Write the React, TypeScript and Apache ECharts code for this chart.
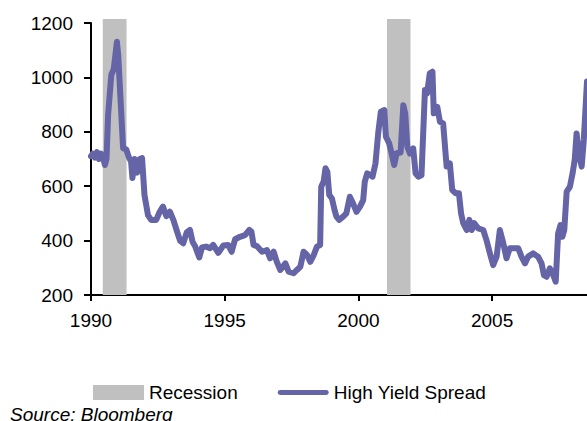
import React, { useEffect, useRef } from "react";
import * as echarts from "echarts";

const years = [
  1990.0, 1990.07, 1990.15, 1990.22, 1990.3, 1990.37, 1990.45, 1990.52, 1990.58, 1990.64,
  1990.76, 1990.85, 1990.97, 1991.02, 1991.07, 1991.2, 1991.32, 1991.42, 1991.5, 1991.55,
  1991.63, 1991.73, 1991.82, 1991.91, 1992.0, 1992.13, 1992.25, 1992.44, 1992.57, 1992.69,
  1992.82, 1992.95, 1993.08, 1993.2, 1993.33, 1993.45, 1993.58, 1993.7, 1993.8, 1993.89,
  1994.05, 1994.15, 1994.3, 1994.45, 1994.57, 1994.76, 1994.95, 1995.13, 1995.26, 1995.39,
  1995.57, 1995.76, 1995.92, 1996.0, 1996.08, 1996.2, 1996.4, 1996.58, 1996.7, 1996.83,
  1996.95, 1997.08, 1997.27, 1997.39, 1997.58, 1997.7, 1997.83, 1997.95, 1998.08, 1998.2,
  1998.33, 1998.45, 1998.57, 1998.61, 1998.7, 1998.77, 1998.84, 1998.91, 1999.01, 1999.11,
  1999.18, 1999.28, 1999.43, 1999.55, 1999.68, 1999.8, 1999.93, 2000.06, 2000.18, 2000.24,
  2000.33, 2000.43, 2000.53, 2000.64, 2000.74, 2000.84, 2000.97, 2001.03, 2001.15, 2001.24,
  2001.34, 2001.43, 2001.58, 2001.68, 2001.75, 2001.83, 2001.93, 2002.05, 2002.14, 2002.24,
  2002.36, 2002.49, 2002.57, 2002.67, 2002.77, 2002.82, 2002.95, 2003.05, 2003.17, 2003.3,
  2003.42, 2003.51, 2003.64, 2003.76, 2003.84, 2003.92, 2004.05, 2004.15, 2004.24, 2004.33,
  2004.48, 2004.67, 2004.79, 2004.92, 2005.04, 2005.17, 2005.29, 2005.42, 2005.54, 2005.66,
  2005.85, 2005.98, 2006.1, 2006.23, 2006.35, 2006.54, 2006.72, 2006.85, 2006.94, 2007.04,
  2007.16, 2007.26, 2007.38, 2007.47, 2007.56, 2007.63, 2007.7, 2007.79, 2007.91, 2008.01,
  2008.09, 2008.16, 2008.25, 2008.35, 2008.43, 2008.55,
];

const spread = [
  710, 720, 705, 725, 700, 720, 705, 678, 700, 862,
  1010, 1030, 1131, 1080, 984, 740, 735, 705, 690, 630,
  700, 650, 700, 703, 568, 494, 476, 476, 506, 525,
  490, 506, 476, 439, 400, 390, 430, 439, 395, 380,
  338, 375, 378, 372, 384, 355, 382, 384, 359, 405,
  414, 420, 439, 433, 384, 380, 359, 365, 335, 359,
  322, 292, 316, 286, 280, 292, 304, 359, 347, 322,
  347, 378, 384, 598, 617, 666, 653, 568, 555, 512,
  488, 476, 488, 500, 561, 537, 506, 525, 549, 617,
  647, 641, 635, 684, 794, 874, 880, 782, 758, 721,
  678, 721, 724, 898, 868, 745, 720, 739, 647, 635,
  640, 954, 941, 1015, 1021, 868, 892, 837, 831, 672,
  684, 586, 574, 574, 500, 464, 439, 476, 439, 464,
  445, 439, 402, 353, 310, 341, 439, 390, 335, 372,
  372, 372, 341, 316, 341, 353, 341, 316, 273, 267,
  298, 280, 249, 427, 457, 414, 439, 580, 598, 647,
  696, 794, 720, 672, 770, 985,
];

const recessionStarts = [1990.44, 2001.07];
const recessionEnds = [1991.33, 2001.95];
const recessionTop = 1215;
const yTicks = [200, 400, 600, 800, 1000, 1200];
const xMin = 1990;
const xMax = 2008.55;

export default function App() {
  const ref = useRef<HTMLDivElement>(null);
  useEffect(() => {
    if (!ref.current) return;
    const chart = echarts.init(ref.current, null, { renderer: "svg" });
    const font = "Liberation Sans";
    const lineData = years.map((y, i) => [y, spread[i]]);
    const recData = recessionStarts.map((s, i) => [s, recessionEnds[i]]);
    chart.setOption({
      animation: false,
      textStyle: { fontFamily: font },
      grid: { left: 91, right: 0, top: 23, bottom: 126 },
      legend: {
        left: 93,
        top: 383,
        padding: 0,
        itemWidth: 51,
        itemHeight: 15,
        itemGap: 40,
        symbolKeepAspect: true,
        textStyle: { fontFamily: font, fontSize: 19, color: "#000" },
        data: [
          { name: "Recession", icon: "rect" },
          { name: "High Yield Spread", icon: "path://M2.5,0L49.5,0A2.5,2.5,0,0,1,49.5,5L2.5,5A2.5,2.5,0,0,1,2.5,0Z" },
        ],
      },
      xAxis: {
        type: "value",
        min: xMin,
        max: xMax,
        interval: 5,
        axisLine: { lineStyle: { color: "#000", width: 2 } },
        axisTick: { show: true, length: 6, lineStyle: { color: "#000", width: 2 } },
        splitLine: { show: false },
        axisLabel: {
          fontFamily: font,
          fontSize: 19,
          color: "#000",
          margin: 16,
          showMaxLabel: false,
          formatter: (v: number) => (v % 5 === 0 ? String(v) : ""),
        },
      },
      yAxis: {
        type: "value",
        min: yTicks[0],
        max: yTicks[yTicks.length - 1],
        interval: 200,
        axisLine: { show: true, lineStyle: { color: "#000", width: 2 } },
        axisTick: { show: true, length: 7, lineStyle: { color: "#000", width: 2 } },
        splitLine: { show: false },
        axisLabel: {
          fontFamily: font,
          fontSize: 19,
          color: "#000",
          margin: 18,
          formatter: (v: number) => String(v),
        },
      },
      series: [
        {
          name: "Recession",
          type: "custom",
          z: 1,
          itemStyle: { color: "#C0C0C0" },
          encode: { x: [0, 1] },
          data: recData,
          renderItem: (params: any, api: any) => {
            const p0 = api.coord([api.value(0), recessionTop]);
            const p1 = api.coord([api.value(1), yTicks[0]]);
            return {
              type: "rect",
              shape: { x: p0[0], y: p0[1], width: p1[0] - p0[0], height: p1[1] - p0[1] },
              style: { fill: "#C0C0C0" },
            };
          },
        },
        {
          name: "High Yield Spread",
          type: "line",
          z: 3,
          symbol: "none",
          showSymbol: false,
          data: lineData,
          itemStyle: { color: "#6464A6" },
          lineStyle: { color: "#6464A6", width: 6, cap: "round", join: "round" },
        },
      ],
      graphic: [
        {
          type: "text",
          left: 10,
          top: 405,
          style: {
            text: "Source: Bloomberg",
            font: "italic 19px 'Liberation Sans'",
            fill: "#000",
          },
        },
      ],
    });
    return () => chart.dispose();
  }, []);
  return (
    <div
      ref={ref}
      style={{ position: "fixed", left: 0, top: 0, width: 587, height: 421, background: "#fff" }}
    />
  );
}
